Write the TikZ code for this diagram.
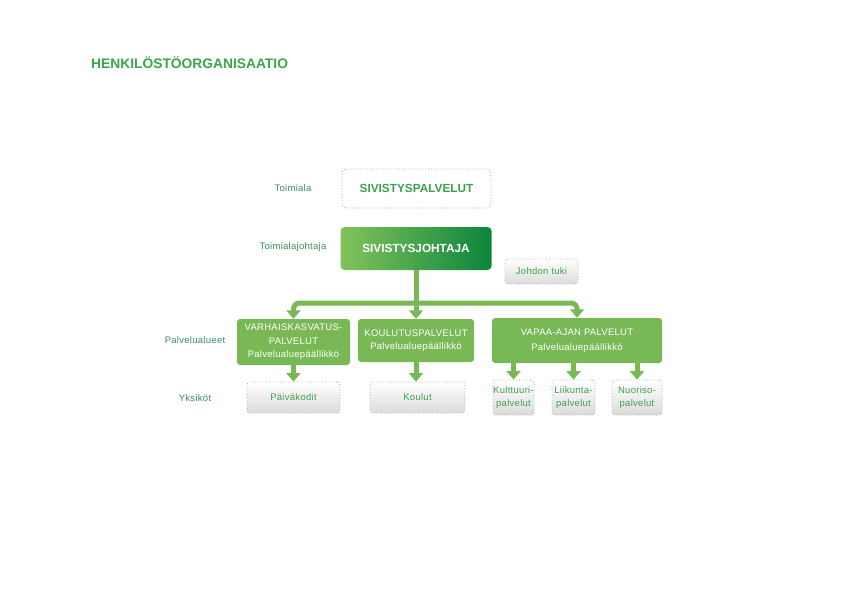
\documentclass[tikz,border=0pt]{standalone}
\usepackage{fontspec}
\setmainfont{Liberation Sans}
\newfontfamily\spaced[LetterSpace=3]{Liberation Sans}
\usetikzlibrary{arrows.meta}
\definecolor{boxgreen}{HTML}{79B955}
\definecolor{lightg}{HTML}{82C35C}
\definecolor{darkg}{HTML}{0B853D}
\definecolor{titleg}{HTML}{3BA647}
\definecolor{labelg}{HTML}{3A8F5C}
\definecolor{textg}{HTML}{3CA24A}
\definecolor{dotgray}{HTML}{A8A8A8}
\tikzset{
  lbl/.style={font=\spaced\fontsize{9.5}{11}\selectfont, text=labelg, anchor=center},
  greenbox/.style={fill=boxgreen, rounded corners=3pt, text=white, align=center,
     font=\spaced\fontsize{9.5}{13.5}\selectfont, inner sep=1pt},
  graybox/.style={draw=dotgray, dotted, line width=0.8pt, top color=white, bottom color=black!14,
     rounded corners=3pt, text=textg, align=center, font=\spaced\fontsize{9.5}{13}\selectfont, inner sep=0pt},
  conn/.style={draw=boxgreen, line width=5pt, -{Triangle[width=14pt,length=8.5pt]}},
}
\begin{document}
\begin{tikzpicture}[x=1pt,y=-1pt]
\useasboundingbox (0,0) rectangle (842,596);
\node[font=\bfseries\fontsize{13.8}{15}\selectfont, text=titleg, anchor=west, inner sep=1pt] (title) at (90,63) {HENKILÖSTÖORGANISAATIO};

\node[lbl] (l1) at (293,188) {Toimiala};
\node[lbl] (l2) at (293,247) {Toimialajohtaja};
\node[lbl] (l3) at (195,340) {Palvelualueet};
\node[lbl] (l4) at (195,398) {Yksiköt};

\node[draw=dotgray, dotted, line width=0.9pt, fill=white, rounded corners=4pt,
  minimum width=149pt, minimum height=39pt, text=textg,
  font=\bfseries\fontsize{11.8}{13}\selectfont] (sp) at (416.5,188.5) {SIVISTYSPALVELUT};

\node[shading=axis, left color=lightg, right color=darkg, rounded corners=4pt,
  minimum width=151pt, minimum height=43pt, text=white,
  font=\bfseries\fontsize{11.8}{13}\selectfont] (sj) at (416,248.5) {SIVISTYSJOHTAJA};

\node[graybox, minimum width=73pt, minimum height=25pt] (jt) at (541.5,271.5) {Johdon tuki};

\node[greenbox, minimum width=113pt, minimum height=46pt] (va) at (293.5,342) {VARHAISKASVATUS-\\PALVELUT\\Palvelualuepäällikkö};
\node[greenbox, minimum width=116pt, minimum height=43pt] (ko) at (416,340.5) {KOULUTUSPALVELUT\\Palvelualuepäällikkö};
\node[greenbox, minimum width=170pt, minimum height=45pt, font=\spaced\fontsize{9.5}{15}\selectfont] (vp) at (577,340.5) {VAPAA-AJAN PALVELUT\\Palvelualuepäällikkö};

\node[graybox, minimum width=93pt, minimum height=31pt] (pk) at (293.5,397.5) {Päiväkodit};
\node[graybox, minimum width=95pt, minimum height=31pt] (kl) at (417.5,397.5) {Koulut};
\node[graybox, minimum width=41pt, minimum height=35pt] (ku) at (513.5,397.5) {Kulttuuri-\\palvelut};
\node[graybox, minimum width=43pt, minimum height=35pt] (li) at (573.5,397.5) {Liikunta-\\palvelut};
\node[graybox, minimum width=50pt, minimum height=35pt] (nu) at (637,397.5) {Nuoriso-\\palvelut};

\coordinate (j) at (416,303);
\draw[conn] (sj.south) -- (ko.north);
\draw[conn, rounded corners=6pt] (j) -| (va.north);
\draw[conn, rounded corners=6pt] (j) -| (vp.north);

\draw[conn] (va.south) -- (pk.north);
\draw[conn] (ko.south) -- (ko.south |- kl.north);
\draw[conn] (vp.south -| ku) -- (ku.north);
\draw[conn] (vp.south -| li) -- (li.north);
\draw[conn] (vp.south -| nu) -- (nu.north);
\end{tikzpicture}
\end{document}
